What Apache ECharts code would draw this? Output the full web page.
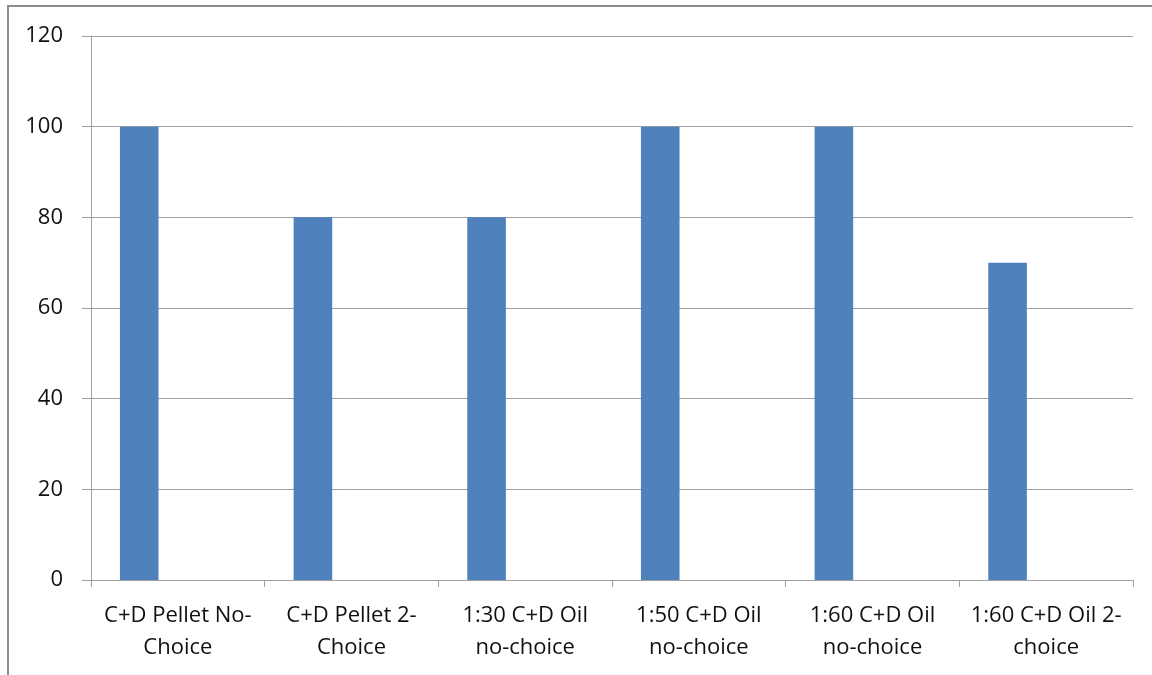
<!DOCTYPE html>
<html>
<head>
<meta charset="utf-8">
<script src="https://cdn.jsdelivr.net/npm/echarts@6/dist/echarts.min.js"></script>
<style>
html,body{margin:0;padding:0;background:#fff;}
#chart{width:1152px;height:675px;}
</style>
</head>
<body>
<div id="chart"></div>
<script>
var categories = [
  "C+D Pellet No-\nChoice",
  "C+D Pellet 2-\nChoice",
  "1:30 C+D Oil\nno-choice",
  "1:50 C+D Oil\nno-choice",
  "1:60 C+D Oil\nno-choice",
  "1:60 C+D Oil 2-\nchoice"
];
var values = [100, 80, 80, 100, 100, 70];
var emptySeries = [null, null, null, null, null, null];
var yTicks = { min: 0, max: 120, interval: 20 };

var FONT = "Open Sans";
var chart = echarts.init(document.getElementById('chart'), null, { renderer: 'canvas' });
chart.setOption({
  animation: false,
  backgroundColor: '#ffffff',
  textStyle: { fontFamily: FONT },
  graphic: [{
    type: 'rect',
    shape: { x: 8, y: 6, width: 1200, height: 720 },
    style: { fill: 'none', stroke: '#8c8c8c', lineWidth: 2 },
    silent: true
  }],
  grid: { left: 91, right: 19, top: 36, bottom: 95, containLabel: false },
  xAxis: {
    type: 'category',
    data: categories,
    boundaryGap: true,
    axisLine: { show: true, lineStyle: { color: '#a0a0a0', width: 1 } },
    axisTick: { show: true, length: 7, inside: false, lineStyle: { color: '#a0a0a0' } },
    axisLabel: {
      interval: 0, margin: 20, color: '#111111', fontSize: 22, fontFamily: FONT,
      lineHeight: 32, align: 'center'
    },
    splitLine: { show: false }
  },
  yAxis: {
    type: 'value',
    min: yTicks.min, max: yTicks.max, interval: yTicks.interval,
    axisLine: { show: true, lineStyle: { color: '#a0a0a0', width: 1 } },
    axisTick: { show: true, length: 9, lineStyle: { color: '#a0a0a0' } },
    axisLabel: { margin: 28, color: '#111111', fontSize: 22, fontFamily: FONT },
    splitLine: { show: true, lineStyle: { color: '#a0a0a0', width: 1 } }
  },
  series: [
    { type: 'bar', data: values, barGap: '0%', barCategoryGap: '33.33%',
      itemStyle: { color: '#4F81BD' } },
    { type: 'bar', data: emptySeries, itemStyle: { color: '#C0504D' } },
    { type: 'bar', data: emptySeries, itemStyle: { color: '#9BBB59' } }
  ]
});
</script>
</body>
</html>
